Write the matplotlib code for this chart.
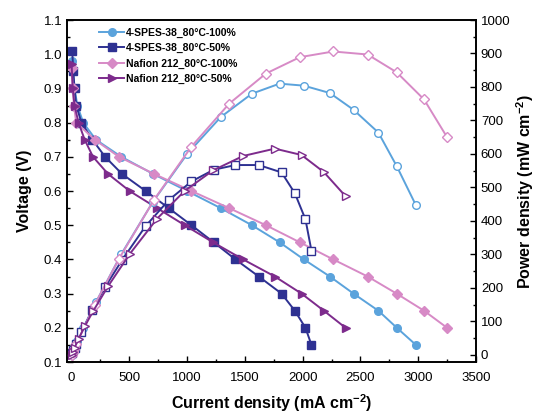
import matplotlib
matplotlib.use("Agg")
import matplotlib.pyplot as plt
from matplotlib.ticker import MultipleLocator

plt.rcParams['font.family'] = ['Liberation Sans', 'DejaVu Sans']
plt.rcParams['mathtext.fontset'] = 'custom'
plt.rcParams['mathtext.rm'] = 'Liberation Sans'
plt.rcParams['mathtext.bf'] = 'Liberation Sans:bold'

# ---- data ----
labels = ['4-SPES-38_80°C-100%', '4-SPES-38_80°C-50%',
          'Nafion 212_80°C-100%', 'Nafion 212_80°C-50%']

spes100_I = [0, 10, 25, 50, 100, 210, 430, 705, 1000, 1290, 1560, 1800, 2010, 2235, 2440, 2655, 2815, 2980]
spes100_V = [0.98, 0.95, 0.90, 0.85, 0.80, 0.75, 0.70, 0.65, 0.60, 0.55, 0.50, 0.45, 0.40, 0.35, 0.30, 0.25, 0.20, 0.15]
spes100_P = [0, 9.5, 22, 42, 80, 157, 301, 458, 600, 710, 780, 810, 804, 782, 732, 664, 563, 447]

spes50_I = [5, 15, 25, 40, 85, 180, 290, 436, 641, 840, 1037, 1230, 1418, 1620, 1817, 1932, 2024, 2076]
spes50_V = [1.01, 0.95, 0.90, 0.85, 0.80, 0.75, 0.70, 0.65, 0.60, 0.55, 0.50, 0.45, 0.40, 0.35, 0.30, 0.25, 0.20, 0.15]
spes50_P = [5, 14, 22, 34, 68, 135, 203, 283, 385, 462, 518, 553, 567, 567, 545, 483, 405, 311]

naf100_I = [0, 10, 20, 40, 200, 410, 713, 1037, 1363, 1681, 1975, 2264, 2562, 2813, 3050, 3250]
naf100_V = [0.96, 0.90, 0.85, 0.80, 0.75, 0.70, 0.65, 0.60, 0.55, 0.50, 0.45, 0.40, 0.35, 0.30, 0.25, 0.20]
naf100_P = [0, 9, 17, 32, 150, 287, 463, 622, 750, 840, 889, 906, 897, 844, 763, 650]

naf50_I = [0, 10, 25, 60, 113, 185, 315, 502, 740, 979, 1224, 1484, 1759, 1990, 2183, 2371]
naf50_V = [0.97, 0.90, 0.85, 0.80, 0.75, 0.70, 0.65, 0.60, 0.55, 0.50, 0.45, 0.40, 0.35, 0.30, 0.25, 0.20]
naf50_P = [0, 9, 21, 48, 85, 130, 205, 301, 407, 490, 551, 594, 616, 597, 546, 474]

colors = ['#5ba3dc', '#2e3192', '#d78ac6', '#7d2b8c']
markers = ['o', 's', 'D', '>']
msizes = [5.5, 5.5, 5, 6]

series = [(spes100_I, spes100_V, spes100_P),
          (spes50_I, spes50_V, spes50_P),
          (naf100_I, naf100_V, naf100_P),
          (naf50_I, naf50_V, naf50_P)]

fig = plt.figure(figsize=(5.42, 4.15), dpi=100)
ax = fig.add_axes([0.1236, 0.1277, 0.7546, 0.8241])
ax2 = ax.twinx()

for (I, V, P), c, m, ms, lab in zip(series, colors, markers, msizes, labels):
    ax.plot(I, V, color=c, marker=m, markersize=ms, lw=1.4, label=lab,
            markeredgecolor=c, markerfacecolor=c)
    ax2.plot(I, P, color=c, marker=m, markersize=ms, lw=1.4,
             markeredgecolor=c, markerfacecolor='white', markeredgewidth=1.0)

ax.set_xlim(-40, 3500)
ax.set_ylim(0.1, 1.1)

ax.xaxis.set_major_locator(MultipleLocator(500))
ax.xaxis.set_minor_locator(MultipleLocator(250))
ax.yaxis.set_major_locator(MultipleLocator(0.1))
ax.yaxis.set_minor_locator(MultipleLocator(0.05))
ax2.yaxis.set_major_locator(MultipleLocator(100))
ax2.yaxis.set_minor_locator(MultipleLocator(50))
ax.yaxis.set_major_formatter(plt.FuncFormatter(lambda v, p: f'{v:.1f}'))

for a in (ax, ax2):
    a.tick_params(which='both', direction='in', labelsize=9.5, width=1.0)
    a.tick_params(which='major', length=4.5)
    a.tick_params(which='minor', length=2.5)
    for s in a.spines.values():
        s.set_linewidth(1.2)
ax.tick_params(axis='x', which='both', top=False, pad=7)
ax.tick_params(axis='y', which='both', right=False)
ax2.set_ylim(-21, 1000)
ax2.set_yticks([0, 100, 200, 300, 400, 500, 600, 700, 800, 900, 1000])

ax.set_xlabel(r'Current density (mA cm$^{\mathbf{-2}}$)', fontsize=11.5, fontweight='bold', labelpad=6)
ax.set_ylabel('Voltage (V)', fontsize=11.5, fontweight='bold', labelpad=8)
ax2.set_ylabel(r'Power density (mW cm$^{\mathbf{-2}}$)', fontsize=11.5, fontweight='bold', labelpad=3)

leg = ax.legend(loc='upper left', bbox_to_anchor=(0.06, 1.0), frameon=False,
                prop={'weight': 'bold', 'size': 7.5}, handlelength=2.4,
                handletextpad=0.15, labelspacing=0.5, borderaxespad=0.35)

fig.savefig('out.png', dpi=100)
